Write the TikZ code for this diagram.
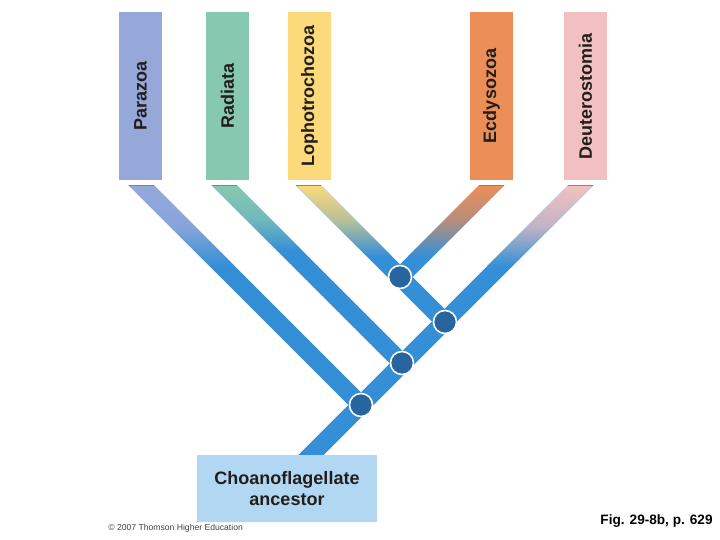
\documentclass[tikz,border=0pt]{standalone}
\usepackage{fontspec}
\setmainfont{Liberation Sans}
\usetikzlibrary{calc}
\definecolor{parazoacol}{RGB}{150,168,218}
\definecolor{radiatacol}{RGB}{134,200,176}
\definecolor{lophocol}{RGB}{250,218,122}
\definecolor{ecdycol}{RGB}{235,142,88}
\definecolor{deuterocol}{RGB}{242,192,192}
\definecolor{branchblue}{RGB}{53,143,215}
\definecolor{jointblue}{RGB}{40,100,158}
\definecolor{ancestorcol}{RGB}{178,215,243}
\definecolor{labeltext}{RGB}{35,30,30}
\tikzset{
  taxon/.style={rotate=90, minimum width=84pt, minimum height=21.5pt, inner sep=0pt,
    font=\fontsize{9}{10.5}\selectfont\bfseries, text=labeltext},
  band/.style={line width=8.85pt, draw=branchblue},
  joint/.style={circle, fill=jointblue, draw=white, line width=0.8pt, minimum size=11.5pt, inner sep=0pt},
  ancestor/.style={fill=ancestorcol, minimum width=90pt, minimum height=33.5pt, inner sep=0pt,
    align=center, font=\fontsize{9}{10.5}\selectfont\bfseries, text=labeltext},
  small/.style={font=\fontsize{4.3}{5}\selectfont, text=black!75, inner sep=0pt},
}

\begin{document}
\begin{tikzpicture}[x=0.5pt, y=-0.5pt]
  \useasboundingbox (0,0) rectangle (720,540);

  % Groups at the top
  \node[taxon, fill=parazoacol] (parazoa) at (140.5,96) {Parazoa};
  \node[taxon, fill=radiatacol] (radiata) at (227.5,96) {Radiata};
  \node[taxon, fill=lophocol] (lopho) at (309.5,96) {Lophotrochozoa};
  \node[taxon, fill=ecdycol] (ecdy) at (491.5,96) {Ecdysozoa};
  \node[taxon, fill=deuterocol] (deutero) at (585.5,96) {Deuterostomia};

  % Branch tops
  \coordinate (pzt) at (142,186);
  \coordinate (rdt) at (225,186);
  \coordinate (lpt) at (309,186);
  \coordinate (ect) at (491,186);
  \coordinate (dtt) at (580,186);

  % Branch points
  \coordinate (j1) at (400,277);
  \coordinate (j2) at (445,322);
  \coordinate (j3) at (402,363);
  \coordinate (j4) at (361,405);

  % Branches
  \begin{scope}
    \clip (0,186) rectangle (720,540);
    \draw[band] ($(pzt)+(-10,-10)$) -- (j4);
    \draw[band] ($(rdt)+(-10,-10)$) -- (j3);
    \draw[band] ($(lpt)+(-10,-10)$) -- (j2);
    \draw[band] ($(ect)+(10,-10)$) -- (j1);
    \draw[band] ($(dtt)+(10,-10)$) -- ($(j4)+(-75,75)$);
  \end{scope}

  % Colour fading into the branches
  \shade[top color=parazoacol, bottom color=branchblue, middle color=parazoacol!85!branchblue]
    ($(pzt)+(-12.5,0)$) -- ($(pzt)+(12.5,0)$) -- ($(pzt)+(92.5,80)$) -- ($(pzt)+(67.5,80)$) -- cycle;
  \shade[top color=radiatacol, bottom color=branchblue, middle color=radiatacol!75!branchblue]
    ($(rdt)+(-12.5,0)$) -- ($(rdt)+(12.5,0)$) -- ($(rdt)+(77.5,65)$) -- ($(rdt)+(52.5,65)$) -- cycle;
  \shade[top color=lophocol, bottom color=branchblue, middle color=lophocol!65!branchblue]
    ($(lpt)+(-12.5,0)$) -- ($(lpt)+(12.5,0)$) -- ($(lpt)+(82.5,70)$) -- ($(lpt)+(57.5,70)$) -- cycle;
  \shade[top color=ecdycol, bottom color=branchblue, middle color=ecdycol!70!branchblue]
    ($(ect)+(-12.5,0)$) -- ($(ect)+(12.5,0)$) -- ($(ect)+(-57.5,70)$) -- ($(ect)+(-82.5,70)$) -- cycle;
  \shade[top color=deuterocol, bottom color=branchblue, middle color=deuterocol!75!branchblue]
    ($(dtt)+(-12.5,0)$) -- ($(dtt)+(12.5,0)$) -- ($(dtt)+(-67.5,80)$) -- ($(dtt)+(-92.5,80)$) -- cycle;

  \node[joint] (n1) at (j1) {};
  \node[joint] (n2) at (j2) {};
  \node[joint] (n3) at (j3) {};
  \node[joint] (n4) at (j4) {};

  % Root
  \node[ancestor] (root) at (287,488.5) {Choanoflagellate\\ancestor};

  \node[small, anchor=base west] (credit) at (108,531) {\textcopyright{} 2007 Thomson Higher Education};
  \node[font=\fontsize{6.8}{8}\selectfont\bfseries, text=black, inner sep=0pt, anchor=base east] (figref) at (713,525) {Fig. 29-8b, p. 629};
\end{tikzpicture}
\end{document}
